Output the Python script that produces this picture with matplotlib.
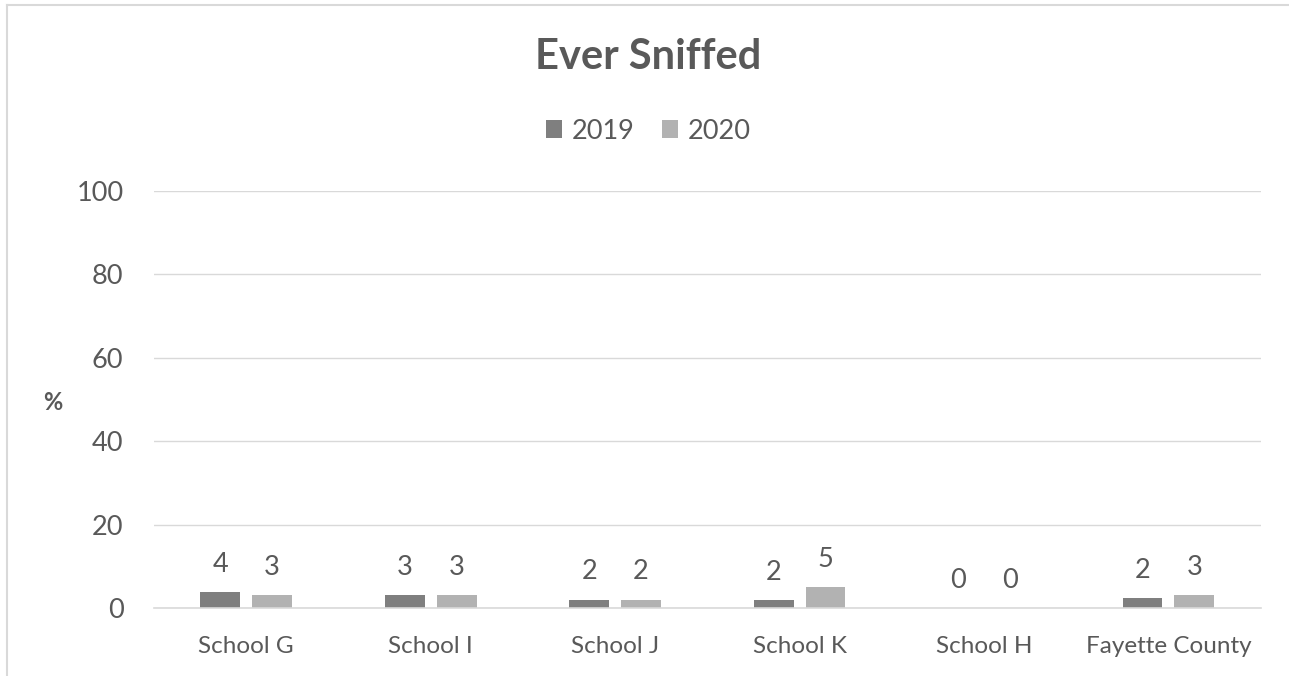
import numpy as np
import matplotlib
matplotlib.use('Agg')
import matplotlib.pyplot as plt
from matplotlib.lines import Line2D

# data
schools = ['School G', 'School I', 'School J', 'School K', 'School H', 'Fayette County']
y2019 = [3.8, 3.0, 2.0, 1.9, 0.0, 2.3]
y2020 = [3.0, 3.0, 2.0, 5.0, 0.0, 3.0]
yticks = [0, 20, 40, 60, 80, 100]

plt.rcParams['font.family'] = ['Lato', 'DejaVu Sans']
txt = '#595959'
grid = '#d9d9d9'

fig = plt.figure(figsize=(12.89, 6.76), dpi=100)
ax = fig.add_axes([0.1195, 0.1006, 0.8585, 0.6169])

x = np.arange(len(schools))
w = 0.216
gap = 0.065
off = (w + gap) / 2
b1 = ax.bar(x - off, y2019, w, color='#7f7f7f', label='2019')
b2 = ax.bar(x + off, y2020, w, color='#b2b2b2', label='2020')

for bars, vals in ((b1, y2019), (b2, y2020)):
    for r, v in zip(bars, vals):
        ax.annotate('%d' % round(v), (r.get_x() + r.get_width() / 2, v),
                    xytext=(0, 11), textcoords='offset points',
                    ha='center', va='bottom', fontsize=19.5, color=txt)

ax.set_xlim(-0.5, len(schools) - 0.5)
ax.set_ylim(0, 100)
ax.set_yticks(yticks)
ax.set_xticks(x)
ax.set_xticklabels(schools)
ax.yaxis.grid(True, color=grid, linewidth=1)
ax.set_axisbelow(True)
for s in ('top', 'right', 'left'):
    ax.spines[s].set_visible(False)
ax.spines['bottom'].set_color(grid)
ax.spines['bottom'].set_linewidth(1.2)
ax.tick_params(axis='both', length=0, colors=txt)
ax.tick_params(axis='y', labelsize=19.5, pad=22)
ax.tick_params(axis='x', labelsize=17.5, pad=20)

fig.text(0.041, 0.405, '%', fontsize=17, fontweight='bold', color=txt,
         ha='center', va='center')
fig.text(0.503, 0.916, 'Ever Sniffed', fontsize=30, fontweight='bold',
         color=txt, ha='center', va='center')

ax.legend(loc='center', bbox_to_anchor=(0.503, 0.806),
          bbox_transform=fig.transFigure, ncol=2, frameon=False,
          fontsize=19.5, labelcolor=txt, handlelength=0.6, handleheight=0.6,
          handletextpad=0.35, columnspacing=1.0)

# chart-area border (left and top edges only are visible)
fig.add_artist(Line2D([0.0055, 0.0055], [0, 0.9925], transform=fig.transFigure,
                      color=grid, linewidth=1.5))
fig.add_artist(Line2D([0.0055, 1.0], [0.9925, 0.9925], transform=fig.transFigure,
                      color=grid, linewidth=1.5))

fig.savefig('out.png', dpi=100)
